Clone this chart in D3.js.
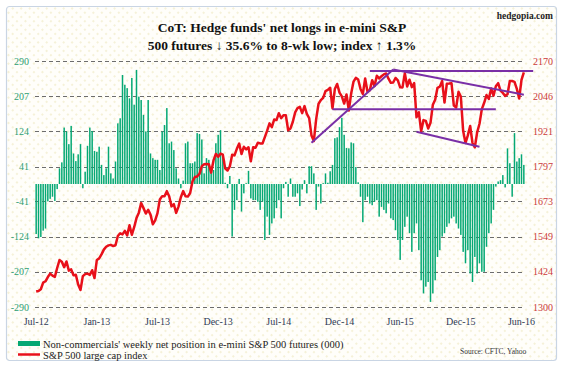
<!DOCTYPE html>
<meta charset="utf-8">

<!-- Load d3.js -->
<script src="https://d3js.org/d3.v7.min.js"></script>

<style>
    body { margin: 0; background: #fff; }
    text { font-family: 'Liberation Serif', 'Times New Roman', serif; }
    .title { font-size: 13.5px; font-weight: bold; fill: #111; }
    .tick-l { font-size: 10px; fill: #2e9e73; }
    .tick-r { font-size: 10px; fill: #cc3b3b; }
    .tick-x { font-size: 10px; fill: #2f3b57; }
    .legend { font-size: 10.5px; fill: #222; }
</style>

<div id="chart"></div>

<script>
    // x axis: one category per week, a label every 26 weeks
    const xTickLabels = ["Jul-12", "Jan-13", "Jul-13", "Dec-13", "Jul-14", "Dec-14", "Jun-15", "Dec-15", "Jun-16"];
    const xTickWeeks = [0, 26, 52, 78, 104, 130, 156, 182, 208];

    const leftTicks = [-290, -207, -124, -41, 41, 124, 207, 290];
    const rightTicks = [1300, 1424, 1549, 1673, 1797, 1921, 2046, 2170];

    // non-commercials' net position, e-mini S&P 500 futures (000)
    const netLongs = [
        -118, -128, -125, -110, -105, -41, -35, -30, -40, -12,
        37, 51, 133, 124, 94, 137, 72, 54, 70, 94,
        -10, 29, 90, 133, 125, 78, 76, 88, 45, 21,
        37, 88, 25, 13, 53, 143, 155, 257, 234, 226,
        202, 250, 187, 269, 206, 198, 163, 124, 198, 72,
        61, 57, 57, 33, 124, 139, 179, 96, 100, 80,
        37, 13, -10, 8, 96, 100, 49, 49, 53, 120,
        118, 105, 25, 61, 57, 41, 33, 96, 116, 127,
        68, 3, -10, 19, -124, -61, -38, 12, -65, -22,
        2, 31, -34, -38, -38, -42, -61, -42, -132, -77,
        -120, -93, -81, -57, -38, -81, -10, 5, -30, 13,
        -30, -30, -22, -52, -13, 9, -22, 42, 42, 25,
        -61, -6, -46, 2, 25, 3, 30, 45, 108, 110,
        134, 156, 116, 85, 84, 98, 96, 40, 4, -30,
        -90, -38, -30, -46, -50, -42, -38, -77, -54, -61,
        -69, -46, -81, -85, -109, -132, -179, -132, -101, -77,
        -116, -160, -116, -93, -156, -227, -258, -242, -231, -278,
        -258, -227, -172, -156, -124, -116, -101, -93, -81, -77,
        -93, -105, -120, -160, -187, -156, -211, -231, -172, -211,
        -187, -207, -207, -148, -116, -93, -61, -6, 6, 9,
        21, -8, 84, 49, -30, 120, 53, 61, 70, 45
    ];

    // S&P 500 weekly
    const spx = [
        1354.68, 1356.78, 1362.66, 1385.97, 1390.99, 1405.87, 1418.16, 1411.13, 1406.58, 1437.92,
        1465.77, 1460.15, 1440.67, 1460.93, 1428.59, 1433.19, 1411.94, 1414.20, 1379.85, 1359.88,
        1409.15, 1416.18, 1418.07, 1413.58, 1430.15, 1402.43,
        1466.47, 1472.05, 1485.98, 1502.96, 1513.17, 1517.93, 1519.79, 1515.60, 1518.20, 1551.18,
        1560.70, 1556.89, 1569.19, 1553.28, 1588.85, 1555.25, 1582.24, 1614.42, 1633.70, 1667.47,
        1649.60, 1630.74, 1643.38, 1626.73, 1592.43, 1606.28, 1631.89, 1680.19, 1692.09, 1691.65,
        1709.67, 1691.42, 1655.83, 1663.50, 1632.97, 1655.17, 1687.99, 1709.91, 1691.75, 1690.50,
        1703.20, 1744.50, 1759.77, 1761.64, 1770.61, 1798.18, 1804.76, 1805.81, 1805.09, 1775.32,
        1818.32, 1841.40,
        1831.37, 1842.37, 1838.70, 1790.29, 1782.59, 1797.02, 1838.63, 1836.25, 1859.45, 1878.04,
        1841.13, 1866.52, 1857.62, 1865.09, 1815.69, 1864.85, 1863.40, 1881.14, 1878.48, 1877.86,
        1900.53, 1923.57, 1949.44, 1936.16, 1962.87, 1960.96, 1985.44, 1967.57, 1978.22, 1978.34,
        1925.15, 1931.59, 1955.06, 1988.40, 2003.37, 2007.71, 1985.54, 2010.40, 1982.85, 1967.90,
        1906.13, 1886.76, 1964.58, 2018.05, 2031.92, 2039.82, 2063.50, 2067.56, 2075.37, 2002.33,
        2070.65, 2088.77,
        2058.20, 2044.81, 2019.42, 2051.82, 1994.99, 2055.47, 2096.99, 2110.30, 2104.50, 2071.26,
        2053.40, 2108.10, 2061.02, 2066.96, 2102.06, 2081.18, 2117.69, 2108.29, 2116.10, 2122.73,
        2126.06, 2107.39, 2092.83, 2094.11, 2109.99, 2101.49, 2076.78, 2076.62, 2126.64, 2079.65,
        2103.84, 2077.57, 2091.54, 1970.89, 1988.87, 1921.22, 1961.05, 1958.03, 1931.34, 1951.36,
        2014.89, 2033.11, 2075.15, 2079.36, 2099.20, 2023.04, 2089.17, 2090.11, 2091.69, 2012.37,
        2005.55, 2060.99, 2043.94,
        1922.03, 1880.33, 1906.90, 1940.24, 1880.05, 1864.78, 1917.78, 1948.05, 1999.99, 2022.19,
        2049.58, 2035.94, 2072.78, 2047.60, 2080.73, 2091.58, 2065.30, 2057.14, 2046.61, 2052.32,
        2099.06, 2099.13, 2096.07, 2071.22, 2037.41, 2102.95, 2129.90
    ];

    // hand-drawn trend lines on the index: [week, level] pairs
    const trendLines = [
        [[118, 1881], [153, 2140]],
        [[143, 2135], [213, 2135]],
        [[153, 2140], [209, 2051]],
        [[127, 1999], [197, 1999]],
        [[163, 1920], [190, 1867]]
    ];

    let margin = {top: 61, right: 38, bottom: 60, left: 35},
        width = 563 - margin.left - margin.right,
        height = 367 - margin.top - margin.bottom;

    let svg = d3.select("#chart")
        .append("svg")
        .attr("width", 563)
        .attr("height", 367);

    // faint dotted paper
    let defs = svg.append("defs");
    let pat = defs.append("pattern")
        .attr("id", "dots")
        .attr("width", 6)
        .attr("height", 6)
        .attr("patternUnits", "userSpaceOnUse")
        .attr("patternTransform", "rotate(45)");
    pat.append("rect").attr("width", 6).attr("height", 6).attr("fill", "#fffefa");
    pat.append("circle").attr("cx", 3).attr("cy", 3).attr("r", 0.9).attr("fill", "#f1ecc8");

    svg.append("rect")
        .attr("x", 6.5).attr("y", 6.5)
        .attr("width", 550).attr("height", 354)
        .attr("rx", 3)
        .attr("fill", "url(#dots)")
        .attr("stroke", "#c9d5e4")
        .attr("stroke-width", 1.2);

    // titles
    svg.append("text")
        .attr("class", "title")
        .attr("x", 282).attr("y", 32)
        .attr("text-anchor", "middle")
        .text("CoT: Hedge funds' net longs in e-mini S&P");
    svg.append("text")
        .attr("class", "title")
        .attr("x", 282).attr("y", 50)
        .attr("text-anchor", "middle")
        .text("500 futures \u2193 35.6% to 8-wk low; index \u2191 1.3%");
    svg.append("text")
        .attr("x", 553).attr("y", 19)
        .attr("text-anchor", "end")
        .style("font-size", "9.5px")
        .style("font-weight", "bold")
        .style("fill", "#222")
        .text("hedgopia.com");

    let g = svg.append("g")
        .attr("transform", "translate(" + margin.left + "," + margin.top + ")");

    let weeks = d3.range(netLongs.length);

    let x = d3.scaleBand()
        .domain(weeks)
        .range([0, width])
        .paddingInner(0.36)
        .paddingOuter(0.18);

    // same positions as band centres, but allows lines to run past the last week
    let xl = d3.scaleLinear()
        .domain([-0.5, weeks.length - 0.5])
        .range([0, width]);

    let yL = d3.scaleLinear()
        .domain([-290, 290])
        .range([height, 0]);

    let yR = d3.scaleLinear()
        .domain([1300, 2170])
        .range([height, 0]);

    // dashed grid lines
    g.selectAll(".grid")
        .data(leftTicks)
        .enter()
        .append("line")
        .attr("x1", 0)
        .attr("x2", width)
        .attr("y1", d => Math.round(yL(d)) + 0.5)
        .attr("y2", d => Math.round(yL(d)) + 0.5)
        .attr("stroke", "#6d6d6d")
        .attr("stroke-width", 1)
        .attr("stroke-dasharray", "4,3");

    // left axis labels
    g.selectAll(".tick-l")
        .data(leftTicks)
        .enter()
        .append("text")
        .attr("class", "tick-l")
        .attr("x", -6)
        .attr("y", d => yL(d))
        .attr("dy", "0.35em")
        .attr("text-anchor", "end")
        .text(d => d);

    // right axis labels
    g.selectAll(".tick-r")
        .data(rightTicks)
        .enter()
        .append("text")
        .attr("class", "tick-r")
        .attr("x", width + 8)
        .attr("y", d => yR(d))
        .attr("dy", "0.35em")
        .attr("text-anchor", "start")
        .text(d => d);

    // x labels
    g.selectAll(".tick-x")
        .data(xTickWeeks)
        .enter()
        .append("text")
        .attr("class", "tick-x")
        .attr("x", d => x(d) + x.bandwidth() / 2)
        .attr("y", height + 18)
        .attr("text-anchor", "middle")
        .text((d, i) => xTickLabels[i]);

    // net position bars
    g.selectAll(".bar")
        .data(netLongs)
        .enter()
        .append("rect")
        .attr("x", (d, i) => x(i))
        .attr("width", x.bandwidth())
        .attr("y", d => Math.min(yL(d), yL(0)))
        .attr("height", d => Math.abs(yL(d) - yL(0)))
        .attr("fill", "#05a874");

    // index line
    let line = d3.line()
        .x((d, i) => xl(i))
        .y(d => yR(d));

    g.append("path")
        .datum(spx)
        .attr("d", line)
        .attr("fill", "none")
        .attr("stroke", "#e8101a")
        .attr("stroke-width", 2.5)
        .attr("stroke-linejoin", "round");

    // trend lines
    g.selectAll(".trend")
        .data(trendLines)
        .enter()
        .append("line")
        .attr("x1", d => xl(d[0][0]))
        .attr("y1", d => yR(d[0][1]))
        .attr("x2", d => xl(d[1][0]))
        .attr("y2", d => yR(d[1][1]))
        .attr("stroke", "#7a2fa6")
        .attr("stroke-width", 2);

    // legend
    svg.append("rect")
        .attr("x", 18).attr("y", 341)
        .attr("width", 22).attr("height", 5)
        .attr("fill", "#05a874");
    svg.append("text")
        .attr("class", "legend")
        .attr("x", 43).attr("y", 348)
        .text("Non-commercials' weekly net position in e-mini S&P 500 futures (000)");
    svg.append("line")
        .attr("x1", 18).attr("x2", 40)
        .attr("y1", 354.5).attr("y2", 354.5)
        .attr("stroke", "#e8101a")
        .attr("stroke-width", 2.5);
    svg.append("text")
        .attr("class", "legend")
        .attr("x", 43).attr("y", 358.5)
        .text("S&P 500 large cap index");
    svg.append("text")
        .attr("x", 460).attr("y", 354)
        .style("font-size", "7.5px")
        .style("fill", "#333")
        .text("Source: CFTC, Yahoo");
</script>
